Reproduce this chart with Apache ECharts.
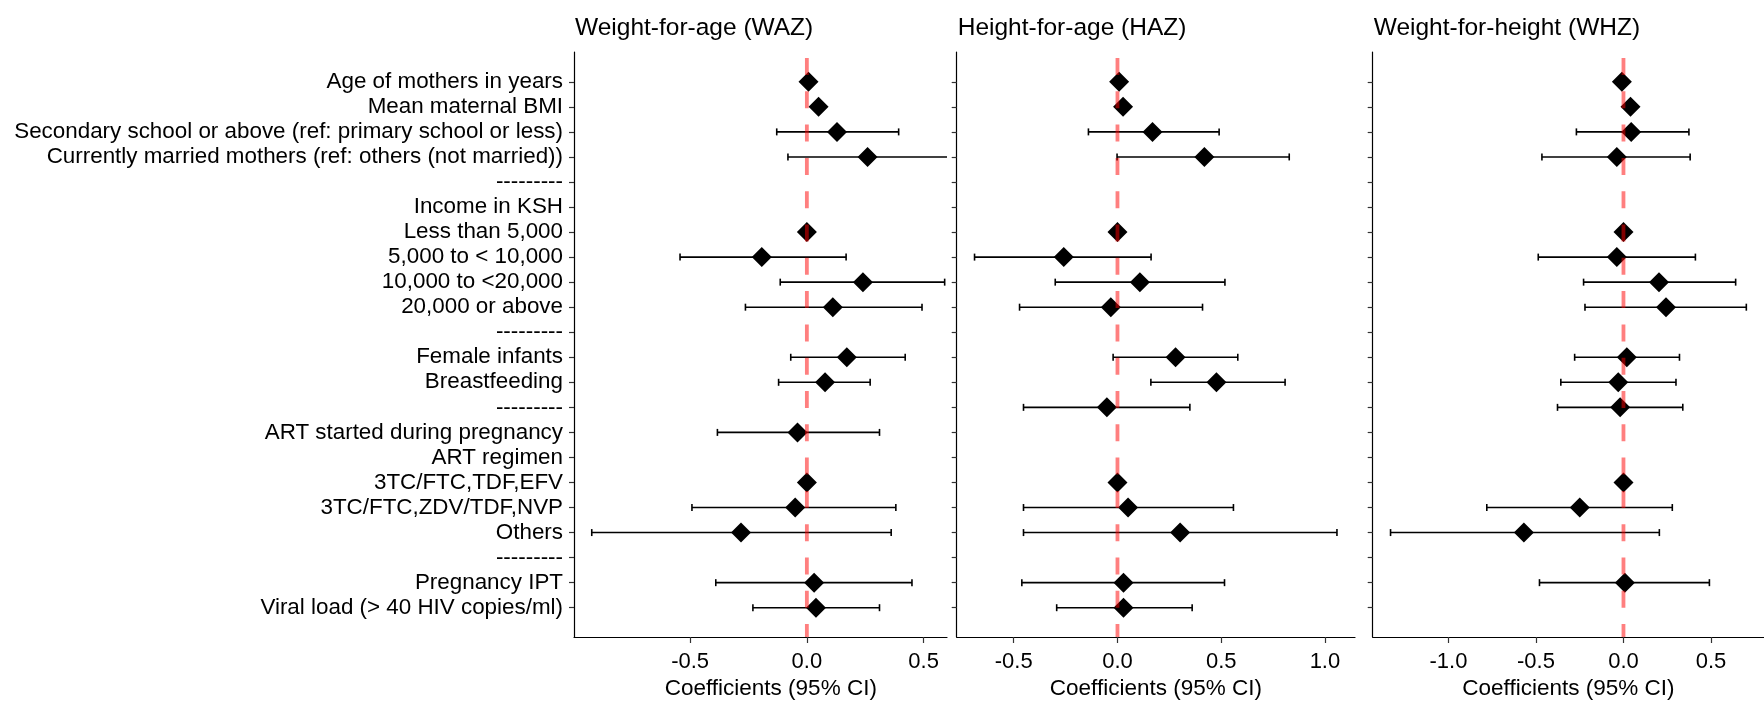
<!DOCTYPE html>
<html>
<head>
<meta charset="utf-8">
<script src="https://cdn.jsdelivr.net/npm/echarts@6/dist/echarts.min.js"></script>
<style>
html,body{margin:0;padding:0;background:#fff;}
#chart{width:1764px;height:707px;}
</style>
</head>
<body>
<div id="chart"></div>
<script>
// ---- data ----
const rowLabels = [
  "Age of mothers in years",
  "Mean maternal BMI",
  "Secondary school or above (ref: primary school or less)",
  "Currently married mothers (ref: others (not married))",
  "---------",
  "Income in KSH",
  "Less than 5,000",
  "5,000 to < 10,000",
  "10,000 to <20,000",
  "20,000 or above",
  "---------",
  "Female infants",
  "Breastfeeding",
  "---------",
  "ART started during pregnancy",
  "ART regimen",
  "3TC/FTC,TDF,EFV",
  "3TC/FTC,ZDV/TDF,NVP",
  "Others",
  "---------",
  "Pregnancy IPT",
  "Viral load (> 40 HIV copies/ml)"
];

const panelTitles = ["Weight-for-age (WAZ)", "Height-for-age (HAZ)", "Weight-for-height (WHZ)"];
const xAxisTitle = "Coefficients (95% CI)";

const wazEst = [0.007, 0.05, 0.129, 0.26, null, null, 0, -0.193, 0.24, 0.111, null, 0.171, 0.078, null, -0.04, null, 0, -0.05, -0.282, null, 0.031, 0.039];
const wazLo  = [null, null, -0.129, -0.081, null, null, null, -0.543, -0.114, -0.263, null, -0.069, -0.121, null, -0.383, null, null, -0.492, -0.921, null, -0.39, -0.231];
const wazHi  = [null, null, 0.393, 0.62, null, null, null, 0.168, 0.59, 0.493, null, 0.421, 0.271, null, 0.311, null, null, 0.381, 0.361, null, 0.45, 0.311];

const hazEst = [0.008, 0.027, 0.169, 0.419, null, null, 0, -0.259, 0.108, -0.032, null, 0.28, 0.477, -0.051, null, null, 0, 0.051, 0.302, null, 0.029, 0.029];
const hazLo  = [null, null, -0.14, -0.002, null, null, null, -0.689, -0.3, -0.472, null, -0.021, 0.161, -0.453, null, null, null, -0.453, -0.453, null, -0.461, -0.293];
const hazHi  = [null, null, 0.49, 0.828, null, null, null, 0.162, 0.518, 0.41, null, 0.58, 0.808, 0.349, null, null, null, 0.559, 1.058, null, 0.516, 0.36];

const whzEst = [-0.009, 0.04, 0.044, -0.038, null, null, 0, -0.038, 0.203, 0.243, null, 0.019, -0.03, -0.019, null, null, 0, -0.25, -0.569, null, 0.008, null];
const whzLo  = [null, null, -0.269, -0.466, null, null, null, -0.487, -0.228, -0.22, null, -0.279, -0.358, -0.377, null, null, null, -0.781, -1.331, null, -0.48, null];
const whzHi  = [null, null, 0.374, 0.381, null, null, null, 0.411, 0.641, 0.702, null, 0.32, 0.3, 0.339, null, null, null, 0.279, 0.205, null, 0.491, null];

const xTicks1 = [-0.5, 0.0, 0.5];
const xTicks2 = [-0.5, 0.0, 0.5, 1.0];
const xTicks3 = [-1.0, -0.5, 0.0, 0.5];
const xRanges = [[-0.997, 0.6], [-0.775, 1.145], [-1.433, 0.803]];
const refValue = 0;

// ---- layout / style ----
const FONT = "'Liberation Sans', Arial, sans-serif";
const grids = [
  {left: 574, top: 52, width: 373, height: 585},
  {left: 956.7, top: 52, width: 398.3, height: 585},
  {left: 1372.7, top: 52, width: 391.3, height: 585}
];
const yMin = -0.19, yMax = 23.17;
const rowIdx = rowLabels.map((_, i) => i + 1);

const panels = [
  {est: wazEst, lo: wazLo, hi: wazHi, ticks: xTicks1},
  {est: hazEst, lo: hazLo, hi: hazHi, ticks: xTicks2},
  {est: whzEst, lo: whzLo, hi: whzHi, ticks: xTicks3}
];

const xAxes = [], yAxes = [], series = [], titles = [], graphics = [];

panels.forEach((p, k) => {
  xAxes.push({
    type: 'value', gridIndex: k, min: xRanges[k][0], max: xRanges[k][1],
    axisLine: {show: true, onZero: false, lineStyle: {color: '#000', width: 1.2}},
    axisTick: {show: true, length: 6, customValues: p.ticks, lineStyle: {color: '#333', width: 1.2}},
    axisLabel: {show: true, customValues: p.ticks, margin: 14, fontSize: 22, color: '#000', fontFamily: FONT,
      formatter: v => v.toFixed(1)},
    splitLine: {show: false}
  });
  yAxes.push({
    type: 'value', gridIndex: k, inverse: true, min: yMin, max: yMax,
    axisLine: {show: true, onZero: false, lineStyle: {color: '#000', width: 1.2}},
    axisTick: {show: true, length: 5, customValues: rowIdx, lineStyle: {color: '#333', width: 1.2}},
    axisLabel: {show: k === 0, customValues: rowIdx, margin: 11, fontSize: 22.4, color: '#000', fontFamily: FONT,
      padding: [3.6, 0, 0, 0],
      formatter: v => rowLabels[Math.round(v) - 1] || ''},
    splitLine: {show: false}
  });

  const ebData = [];
  p.lo.forEach((lo, i) => { if (lo !== null && p.hi[i] !== null) ebData.push([lo, p.hi[i], i + 1]); });
  series.push({
    type: 'custom', xAxisIndex: k, yAxisIndex: k, clip: true, z: 2,
    data: ebData,
    renderItem: function (params, api) {
      const y = api.value(2);
      const a = api.coord([api.value(0), y]);
      const b = api.coord([api.value(1), y]);
      const cs = params.coordSys;
      const xL = Math.max(a[0], cs.x), xR = Math.min(b[0], cs.x + cs.width);
      const st = {stroke: '#000', lineWidth: 1.6};
      const ch = [{type: 'line', shape: {x1: xL, y1: a[1], x2: xR, y2: a[1]}, style: st}];
      if (a[0] >= cs.x) ch.push({type: 'line', shape: {x1: a[0], y1: a[1] - 3.5, x2: a[0], y2: a[1] + 3.5}, style: st});
      if (b[0] <= cs.x + cs.width) ch.push({type: 'line', shape: {x1: b[0], y1: b[1] - 3.5, x2: b[0], y2: b[1] + 3.5}, style: st});
      return {type: 'group', children: ch};
    }
  });

  const ptData = [];
  p.est.forEach((v, i) => { if (v !== null) ptData.push([v, i + 1]); });
  series.push({
    type: 'scatter', xAxisIndex: k, yAxisIndex: k, z: 3,
    symbol: 'diamond', symbolSize: 20, itemStyle: {color: '#000', opacity: 1},
    emphasis: {disabled: true},
    data: ptData
  });

  series.push({
    type: 'custom', xAxisIndex: k, yAxisIndex: k, z: 5, silent: true,
    data: [[refValue]],
    renderItem: function (params, api) {
      const cs = params.coordSys;
      const x = api.coord([api.value(0), 1])[0];
      return {type: 'line', shape: {x1: x, y1: cs.y, x2: x, y2: cs.y + cs.height},
        style: {stroke: 'rgba(255,0,0,0.5)', lineWidth: 3.8, lineDash: [17, 16.3], lineDashOffset: 27.3}};
    }
  });

  titles.push({
    text: panelTitles[k], left: grids[k].left + 1, top: 16, padding: 0,
    textStyle: {fontSize: 24.5, fontWeight: 'normal', color: '#000', fontFamily: FONT}
  });
});

const axisTitleCenters = [770.8, 1155.9, 1568.4];
axisTitleCenters.forEach(cx => {
  graphics.push({
    type: 'text', x: cx, y: 688.5,
    style: {text: xAxisTitle, align: 'center', verticalAlign: 'middle', fontSize: 22.5, fontFamily: FONT, fill: '#000'}
  });
});

const chart = echarts.init(document.getElementById('chart'), null, {renderer: 'canvas'});
chart.setOption({
  animation: false,
  backgroundColor: '#fff',
  textStyle: {fontFamily: FONT},
  title: titles,
  grid: grids,
  xAxis: xAxes,
  yAxis: yAxes,
  series: series,
  graphic: graphics
});
</script>
</body>
</html>
